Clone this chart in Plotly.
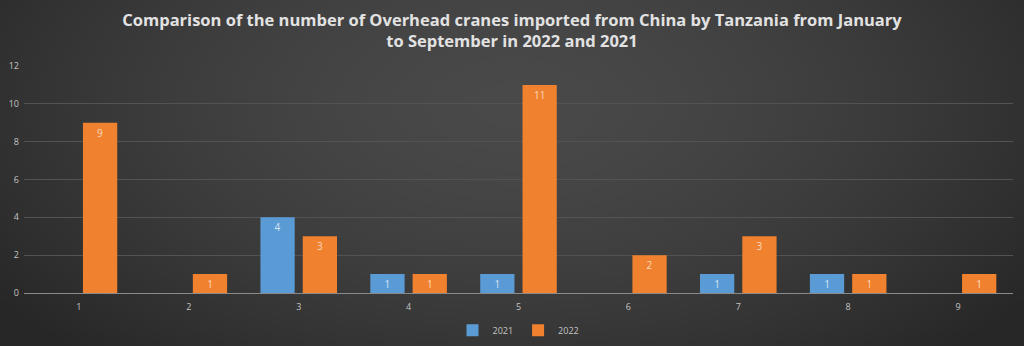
import base64, struct, zlib, math
import plotly.graph_objects as go

months = ["1", "2", "3", "4", "5", "6", "7", "8", "9"]
values_2021 = [0, 0, 4, 1, 1, 0, 1, 1, 0]
values_2022 = [9, 1, 3, 1, 11, 2, 3, 1, 1]
y_ticks = [0, 2, 4, 6, 8, 10, 12]

W, H = 1024, 346
ML, MR, MT, MB = 24, 11, 66, 53


def make_bg_png(w=256, h=88):
    rows = []
    for j in range(h):
        row = bytearray([0])
        for i in range(w):
            dx = (i / (w - 1) - 0.5) / 0.62
            dy = (j / (h - 1) - 0.3) / 1.0
            r = min(1.0, math.sqrt(dx * dx + dy * dy))
            v = int(round(0x49 - (0x49 - 0x27) * r ** 1.6))
            row += bytes([v, v, v])
        rows.append(bytes(row))
    raw = b"".join(rows)

    def chunk(t, d):
        c = struct.pack(">I", len(d)) + t + d
        return c + struct.pack(">I", zlib.crc32(t + d) & 0xffffffff)

    png = b"\x89PNG\r\n\x1a\n"
    png += chunk(b"IHDR", struct.pack(">IIBBBBB", w, h, 8, 2, 0, 0, 0))
    png += chunk(b"IDAT", zlib.compress(raw, 9))
    png += chunk(b"IEND", b"")
    return "data:image/png;base64," + base64.b64encode(png).decode()


def labels(vals):
    return [str(v) if v else "" for v in vals]


fig = go.Figure()
fig.add_trace(go.Bar(
    x=months, y=values_2021, name="2021",
    marker=dict(color="#5b9bd5", line=dict(width=0)),
    text=labels(values_2021), textposition="inside", insidetextanchor="end",
    textangle=0,
    textfont=dict(size=10, color="rgba(255,255,255,0.75)", family="Open Sans"),
    constraintext="none", cliponaxis=False,
))
fig.add_trace(go.Bar(
    x=months, y=values_2022, name="2022",
    marker=dict(color="#f0812e", line=dict(width=0)),
    text=labels(values_2022), textposition="inside", insidetextanchor="end",
    textangle=0,
    textfont=dict(size=10, color="rgba(255,255,255,0.7)", family="Open Sans"),
    constraintext="none", cliponaxis=False,
))

pw = W - ML - MR
ph = H - MT - MB
fig.update_layout(
    width=W, height=H,
    margin=dict(l=ML, r=MR, t=MT, b=MB, autoexpand=False),
    paper_bgcolor="#383838",
    plot_bgcolor="rgba(0,0,0,0)",
    barmode="group", bargap=0.23, bargroupgap=0.19,
    title=dict(
        text="Comparison of the number of Overhead cranes imported from China by Tanzania from January<br>to September in 2022 and 2021",
        x=0.5, xanchor="center", yref="container", y=0.925, yanchor="top",
        font=dict(family="Open Sans", size=16.5, color="#e2e2e2", weight="bold"),
    ),
    font=dict(family="Open Sans", color="#c4c4c4"),
    xaxis=dict(
        showgrid=False, showline=False, zeroline=False,
        tickfont=dict(size=9, color="#c4c4c4"), ticks="", ticklabelstandoff=7,
    ),
    yaxis=dict(
        range=[0, 12], tickvals=y_ticks, showgrid=True, gridcolor="#535353", gridwidth=1,
        zeroline=True, zerolinecolor="#8a8a8a", zerolinewidth=1,
        tickfont=dict(size=9, color="#c4c4c4"), ticks="", ticklabelstandoff=4,
    ),
    legend=dict(
        orientation="h", x=0.5, xanchor="center", y=-0.1, yanchor="top",
        font=dict(size=9, color="#c4c4c4"), itemwidth=30,
        bgcolor="rgba(0,0,0,0)", tracegroupgap=0,
    ),
    images=[dict(
        source=make_bg_png(), xref="paper", yref="paper",
        x=-ML / pw, y=1 + MT / ph, sizex=W / pw, sizey=H / ph,
        xanchor="left", yanchor="top", sizing="stretch", layer="below",
    )],
)

fig.write_html("out.html")
